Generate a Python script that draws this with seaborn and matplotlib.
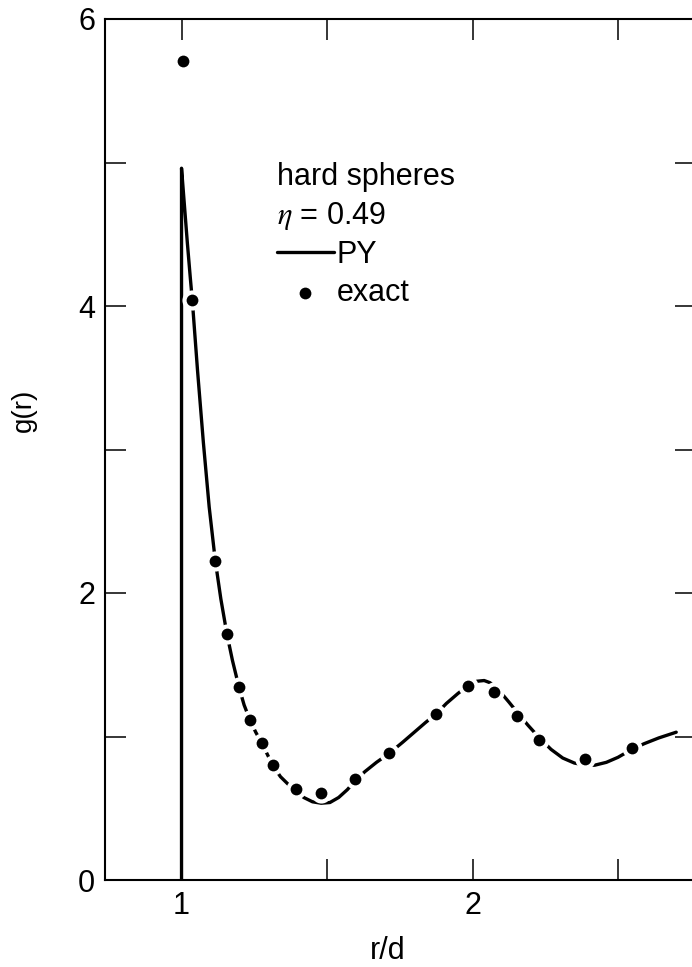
import numpy as np
import pandas as pd
import seaborn as sns
import matplotlib.pyplot as plt

# Percus-Yevick g(r) for hard spheres, eta = 0.49
py_r = [1.0, 1.0, 1.01, 1.02, 1.03, 1.037, 1.055, 1.075, 1.095, 1.116,
        1.135, 1.156, 1.175, 1.197, 1.215, 1.235, 1.255, 1.276, 1.295, 1.313,
        1.34, 1.365, 1.393, 1.42, 1.45, 1.48, 1.51, 1.54, 1.57, 1.596,
        1.63, 1.67, 1.714, 1.76, 1.80, 1.84, 1.874, 1.91, 1.95, 1.985,
        2.015, 2.04, 2.06, 2.08, 2.10, 2.125, 2.153, 2.19, 2.23, 2.27,
        2.31, 2.35, 2.39, 2.42, 2.46, 2.50, 2.547, 2.59, 2.64, 2.70]
py_g = [0.0, 4.96, 4.70, 4.44, 4.20, 4.04, 3.55, 3.05, 2.60, 2.225,
        1.96, 1.714, 1.53, 1.347, 1.22, 1.115, 1.03, 0.953, 0.875, 0.80,
        0.72, 0.67, 0.625, 0.575, 0.545, 0.535, 0.54, 0.575, 0.63, 0.69,
        0.755, 0.82, 0.883, 0.96, 1.03, 1.10, 1.155, 1.23, 1.30, 1.355,
        1.385, 1.39, 1.375, 1.34, 1.30, 1.24, 1.17, 1.08, 0.99, 0.91,
        0.85, 0.815, 0.80, 0.80, 0.82, 0.855, 0.91, 0.95, 0.99, 1.03]

# "exact" simulation points
exact_r = [1.004, 1.037, 1.116, 1.156, 1.197, 1.235, 1.276, 1.313, 1.393, 1.479,
           1.596, 1.714, 1.874, 1.985, 2.075, 2.153, 2.23, 2.386, 2.547]
exact_g = [5.71, 4.04, 2.225, 1.714, 1.347, 1.115, 0.953, 0.80, 0.632, 0.604,
           0.706, 0.883, 1.155, 1.352, 1.308, 1.143, 0.976, 0.843, 0.918]

x_major = [1, 2]
x_minor = [1.5, 2.5]
y_major = [0, 2, 4, 6]
y_minor = [1, 3, 5]

sns.set_style("ticks")
plt.rcParams["font.family"] = ["Liberation Sans", "DejaVu Sans"]
plt.rcParams["mathtext.fontset"] = "stix"
plt.rcParams["text.color"] = "black"
plt.rcParams["axes.labelcolor"] = "black"
plt.rcParams["xtick.color"] = "black"
plt.rcParams["ytick.color"] = "black"

fig = plt.figure(figsize=(6.92, 9.67), dpi=100)
# right spine sits just off the page, as in the scan
ax = fig.add_axes([105 / 692, 87 / 967, 591 / 692, 861 / 967])

sns.lineplot(x=py_r, y=py_g, sort=False, estimator=None, color="black",
             linewidth=2.4, ax=ax, label="PY")
# white halo so the curve breaks around each point
sns.scatterplot(x=exact_r, y=exact_g, s=210, color="white", linewidth=0,
                ax=ax, legend=False, zorder=3)
sns.scatterplot(x=exact_r, y=exact_g, s=72, color="black", linewidth=0,
                ax=ax, label="exact", zorder=4)

ax.set_xlim(0.737, 2.768)
ax.set_ylim(0, 6)
ax.set_xticks(x_major)
ax.set_xticks(x_minor, minor=True)
ax.set_yticks(y_major)
ax.set_yticks(y_minor, minor=True)
ax.tick_params(which="both", direction="in", top=True, right=True,
               length=15, width=1.1, color="black", labelsize=22)
ax.tick_params(axis="x", pad=8)
ax.tick_params(axis="y", pad=7)
for sp in ax.spines.values():
    sp.set_linewidth(1.5)
    sp.set_color("black")

ax.set_xlabel("r/d", fontsize=22)
ax.xaxis.set_label_coords(0.479, -0.065)
ax.set_ylabel("g(r)", fontsize=20)
ax.yaxis.set_label_coords(-0.115, 0.545)

leg = ax.legend(title="hard spheres\n$\\eta$ = 0.49", loc="upper left",
                bbox_to_anchor=(0.291, 0.834), frameon=False, fontsize=22,
                title_fontsize=22, handlelength=1.85, handletextpad=0.1,
                labelspacing=0.25, borderpad=0, borderaxespad=0,
                alignment="left")
leg.get_title().set_linespacing(1.35)

fig.savefig("out.png", dpi=100)
